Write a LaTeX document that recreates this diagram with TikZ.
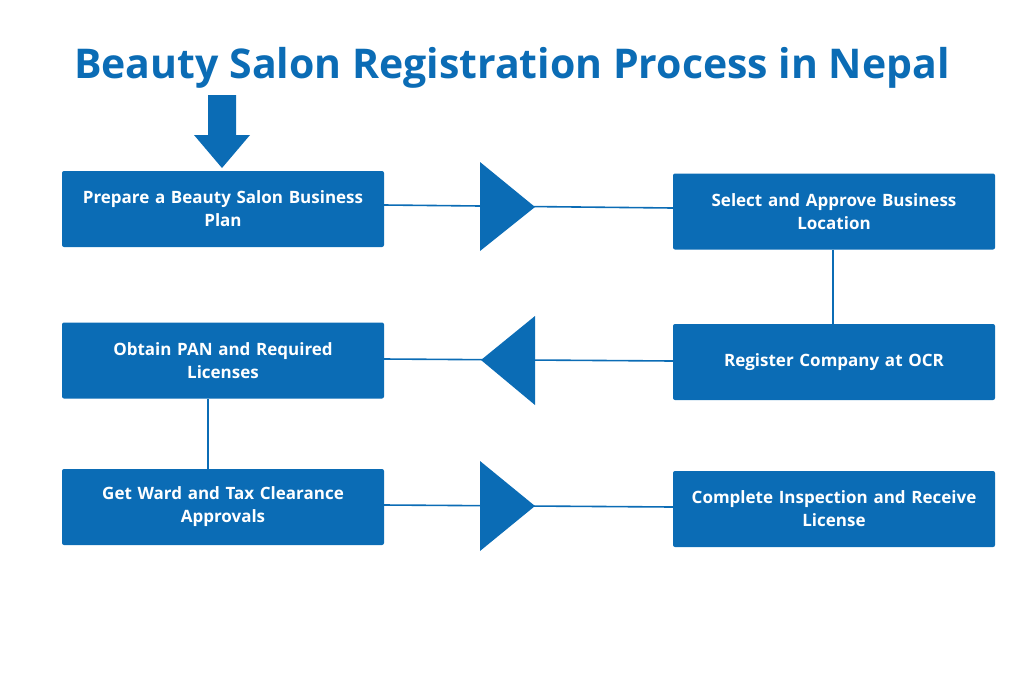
\documentclass[tikz,border=0pt]{standalone}
\usepackage{fontspec}
\setmainfont{Open Sans}
\definecolor{blu}{HTML}{0B6CB5}
\begin{document}
\begin{tikzpicture}[x=1pt,y=-1pt,
 box/.style={fill=blu,rounded corners=2pt,minimum width=322pt,minimum height=76pt,text=white,font=\bfseries\fontsize{17}{23}\selectfont,align=center,text width=315pt,inner sep=0pt},
 ln/.style={draw=blu,line width=1.6pt},
 tri/.style={fill=blu}]
\useasboundingbox (0,0) rectangle (1024,683);
\node[text=blu,font=\bfseries\fontsize{41}{48}\selectfont] (title) at (512,68) {Beauty Salon Registration Process in Nepal};
\node[box] (b1) at (223,209) {Prepare a Beauty Salon Business\\Plan};
\node[box] (b2) at (834,211.5) {Select and Approve Business\\Location};
\node[box] (b3) at (223,360.5) {Obtain PAN and Required\\Licenses};
\node[box] (b4) at (834,362) {Register Company at OCR};
\node[box] (b5) at (223,507) {Get Ward and Tax Clearance\\Approvals};
\node[box] (b6) at (834,509) {Complete Inspection and Receive\\License};
\draw[ln] (b1.east|-0,205) -- (b2.west|-0,208);
\draw[ln] (b2.south-|833,0) -- (b4.north-|833,0);
\draw[ln] (b4.west|-0,361) -- (b3.east|-0,359);
\draw[ln] (b3.south-|208,0) -- (b5.north-|208,0);
\draw[ln] (b5.east|-0,505) -- (b6.west|-0,507);
\fill[tri] (480,162) -- (535,207) -- (480,251) -- cycle;
\fill[tri] (535,316) -- (481,360) -- (535,405) -- cycle;
\fill[tri] (480,461) -- (535,506) -- (480,551) -- cycle;
\fill[blu] (208,95) -- (236,95) -- (236,135) -- (250,135) -- (222,168) -- (194,135) -- (208,135) -- cycle;
\end{tikzpicture}
\end{document}
